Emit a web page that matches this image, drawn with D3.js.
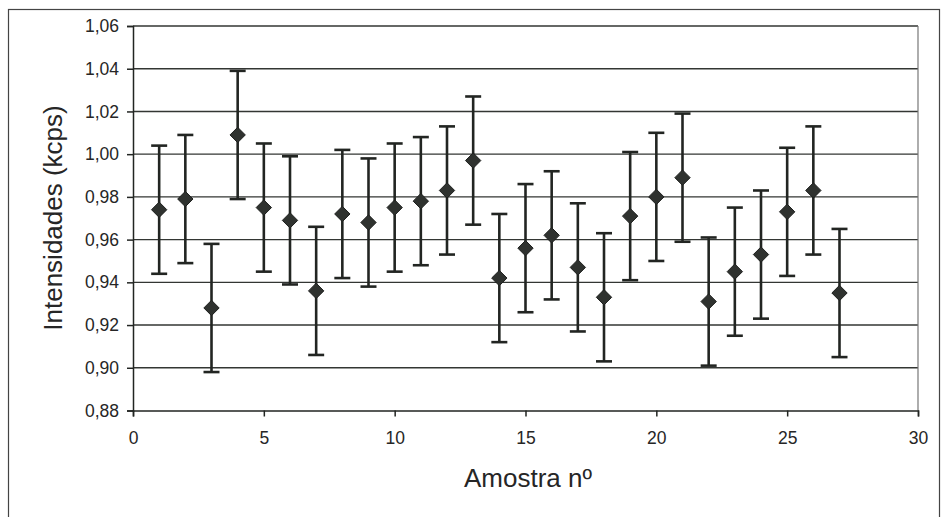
<!DOCTYPE html>
<html>
<head>
<meta charset="utf-8">
<script src="https://cdn.jsdelivr.net/npm/d3@7"></script>
<style>
  body { margin: 0; background: #fff; }
  svg { display: block; font-family: "Liberation Sans", Arial, sans-serif; }
</style>
</head>
<body>
<div id="chart"></div>
<script>
const samples = [1, 2, 3, 4, 5, 6, 7, 8, 9, 10, 11, 12, 13, 14, 15, 16, 17, 18, 19, 20, 21, 22, 23, 24, 25, 26, 27];
const intensities = [0.974, 0.979, 0.928, 1.009, 0.975, 0.969, 0.936, 0.972, 0.968, 0.975, 0.978, 0.983, 0.997,
  0.942, 0.956, 0.962, 0.947, 0.933, 0.971, 0.980, 0.989, 0.931, 0.945, 0.953, 0.973, 0.983, 0.935];
const errors = [0.03, 0.03, 0.03, 0.03, 0.03, 0.03, 0.03, 0.03, 0.03, 0.03, 0.03, 0.03, 0.03, 0.03,
  0.03, 0.03, 0.03, 0.03, 0.03, 0.03, 0.03, 0.03, 0.03, 0.03, 0.03, 0.03, 0.03];
const xTicks = [0, 5, 10, 15, 20, 25, 30];
const yTicks = [0.88, 0.90, 0.92, 0.94, 0.96, 0.98, 1.00, 1.02, 1.04, 1.06];

const data = samples.map((s, i) => ({ x: s, y: intensities[i], e: errors[i] }));

const dimensions = { width: 942, height: 517 };
const plot = { left: 133, right: 918, top: 26, bottom: 410.5 };
const ink = '#222522';

const svg = d3.select('#chart')
  .append('svg')
  .attr('width', dimensions.width)
  .attr('height', dimensions.height);

// outer frame
svg.append('rect')
  .attr('x', 8.5).attr('y', 9.5)
  .attr('width', 931).attr('height', 520)
  .attr('fill', 'none').attr('stroke', '#444').attr('stroke-width', 1.2);

const x = d3.scaleLinear().domain([0, 30]).range([plot.left, plot.right]);
const y = d3.scaleLinear().domain([0.88, 1.06]).range([plot.bottom, plot.top]);

const fmt = d => d3.format('.2f')(d).replace('.', ',');

// gridlines
svg.append('g')
  .selectAll('line')
  .data(yTicks.slice(1))
  .join('line')
  .attr('x1', plot.left).attr('x2', plot.right)
  .attr('y1', d => y(d)).attr('y2', d => y(d))
  .attr('stroke', '#333633').attr('stroke-width', 1.4);

// right border of plot area
svg.append('line')
  .attr('x1', plot.right).attr('x2', plot.right)
  .attr('y1', plot.top).attr('y2', plot.bottom)
  .attr('stroke', '#777').attr('stroke-width', 1.2);

const yAxis = svg.append('g')
  .attr('transform', `translate(${plot.left},0)`)
  .call(d3.axisLeft(y).tickValues(yTicks).tickFormat(fmt).tickSize(6).tickPadding(8));

const xAxis = svg.append('g')
  .attr('transform', `translate(0,${plot.bottom})`)
  .call(d3.axisBottom(x).tickValues(xTicks).tickSize(6).tickPadding(15));

[yAxis, xAxis].forEach(a => {
  a.select('.domain').attr('stroke', ink).attr('stroke-width', 1.5);
  a.selectAll('.tick line').attr('stroke', ink).attr('stroke-width', 1.5);
  a.selectAll('.tick text').attr('fill', '#262626').attr('font-size', 17.5)
    .attr('font-family', '"Liberation Sans", Arial, sans-serif');
});

// error bars
const bars = svg.append('g')
  .attr('stroke', ink)
  .attr('stroke-width', 2.6);

bars.selectAll('line.v')
  .data(data)
  .join('line')
  .attr('class', 'v')
  .attr('x1', d => x(d.x)).attr('x2', d => x(d.x))
  .attr('y1', d => y(d.y + d.e)).attr('y2', d => y(d.y - d.e));

const capW = 8;
bars.selectAll('line.top')
  .data(data)
  .join('line')
  .attr('class', 'top')
  .attr('x1', d => x(d.x) - capW).attr('x2', d => x(d.x) + capW)
  .attr('y1', d => y(d.y + d.e)).attr('y2', d => y(d.y + d.e));

bars.selectAll('line.bot')
  .data(data)
  .join('line')
  .attr('class', 'bot')
  .attr('x1', d => x(d.x) - capW).attr('x2', d => x(d.x) + capW)
  .attr('y1', d => y(d.y - d.e)).attr('y2', d => y(d.y - d.e));

// diamond markers
svg.append('g')
  .selectAll('path')
  .data(data)
  .join('path')
  .attr('transform', d => `translate(${x(d.x)},${y(d.y)})`)
  .attr('d', d3.symbol(d3.symbolDiamond2, 150))
  .attr('fill', '#2f322f')
  .attr('stroke', '#1e201e')
  .attr('stroke-width', 1);

// axis titles
svg.append('text')
  .attr('x', 528).attr('y', 487)
  .attr('text-anchor', 'middle')
  .attr('font-size', 26)
  .attr('fill', '#262626')
  .text('Amostra nº');

svg.append('text')
  .attr('transform', 'translate(62,218) rotate(-90)')
  .attr('text-anchor', 'middle')
  .attr('font-size', 26)
  .attr('fill', '#262626')
  .text('Intensidades (kcps)');
</script>
</body>
</html>
